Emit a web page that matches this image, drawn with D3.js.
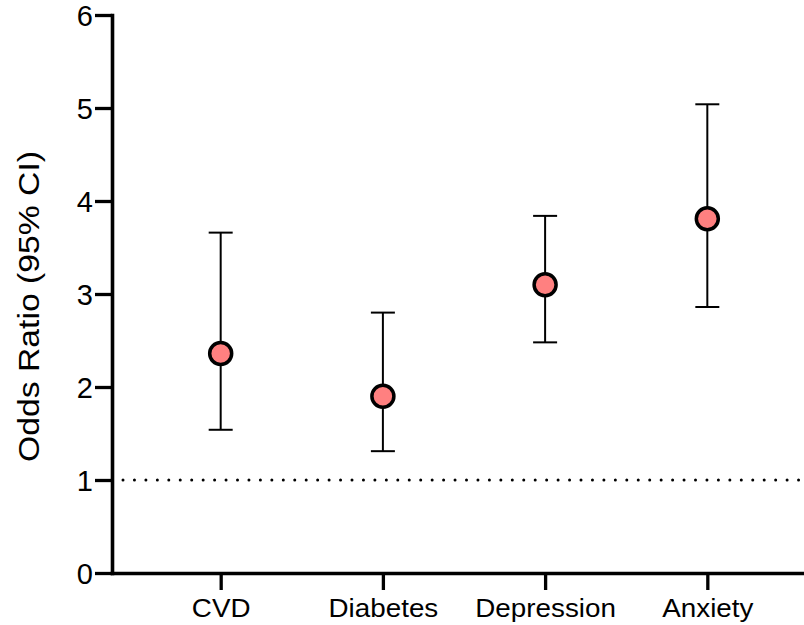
<!DOCTYPE html>
<html>
<head>
<meta charset="utf-8">
<script src="https://cdn.jsdelivr.net/npm/d3@7"></script>
<style>
  html, body { margin: 0; padding: 0; background: #fff; }
  svg { display: block; }
  text { font-family: "Liberation Sans", Arial, Helvetica, sans-serif; fill: #000; }
</style>
</head>
<body>
<svg id="chart" width="804" height="625"></svg>
<script>
// ---- data ----
const categories = ["CVD", "Diabetes", "Depression", "Anxiety"];
const oddsRatio  = [2.36, 1.90, 3.10, 3.81];
const ciLower    = [1.54, 1.31, 2.48, 2.86];
const ciUpper    = [3.66, 2.80, 3.84, 5.04];
const yTicks     = [0, 1, 2, 3, 4, 5, 6];
const refValue   = [1];
const yTitle     = "Odds Ratio (95% CI)";

// ---- layout ----
const W = 804, H = 625;
const mLeft = 112, mTop = 15, mBottom = 573;

const svg = d3.select("#chart");

const y = d3.scaleLinear().domain([0, 6]).range([mBottom, mTop]);
const x = d3.scalePoint().domain(categories).range([mLeft, 816]).padding(0.67);

const rows = categories.map((c, i) => ({ c, v: oddsRatio[i], lo: ciLower[i], hi: ciUpper[i] }));

// reference dotted line
svg.selectAll("line.ref").data(refValue).join("line")
  .attr("class", "ref")
  .attr("x1", mLeft + 11).attr("x2", W)
  .attr("y1", d => y(d)).attr("y2", d => y(d))
  .attr("stroke", "#000").attr("stroke-width", 3)
  .attr("stroke-linecap", "round")
  .attr("stroke-dasharray", "0 11.45");

// y axis
const gy = svg.append("g").attr("transform", `translate(${mLeft},0)`)
  .call(d3.axisLeft(y).tickValues(yTicks).tickFormat(d3.format("d")).tickSize(17).tickSizeOuter(0).tickPadding(2));
gy.select(".domain").attr("stroke", "#000").attr("stroke-width", 3.6).attr("stroke-linecap", "square");
gy.selectAll(".tick line").attr("stroke", "#000").attr("stroke-width", 3.3);
gy.selectAll(".tick text").attr("font-size", 29).attr("dy", "0.36em");

// x axis
const gx = svg.append("g").attr("transform", `translate(0,${mBottom})`)
  .call(d3.axisBottom(x).tickSize(17).tickSizeOuter(0).tickPadding(9));
gx.select(".domain").attr("stroke", "#000").attr("stroke-width", 3.6).attr("stroke-linecap", "square");
gx.selectAll(".tick line").attr("stroke", "#000").attr("stroke-width", 3.3);
gx.selectAll(".tick text").attr("font-size", 26).attr("dy", "0.71em")
  .attr("transform", "scale(1.07,1)");

// y title
svg.append("text")
  .attr("transform", `translate(39,${(150 + 463) / 2}) rotate(-90)`)
  .attr("text-anchor", "middle")
  .attr("font-size", 29)
  .attr("textLength", 311)
  .attr("lengthAdjust", "spacingAndGlyphs")
  .text(yTitle);

// error bars
const eb = svg.append("g").selectAll("g").data(rows).join("g");
eb.append("line")
  .attr("x1", d => x(d.c)).attr("x2", d => x(d.c))
  .attr("y1", d => y(d.lo)).attr("y2", d => y(d.hi))
  .attr("stroke", "#000").attr("stroke-width", 2);
eb.append("line")
  .attr("x1", d => x(d.c) - 12).attr("x2", d => x(d.c) + 12)
  .attr("y1", d => y(d.hi)).attr("y2", d => y(d.hi))
  .attr("stroke", "#000").attr("stroke-width", 2);
eb.append("line")
  .attr("x1", d => x(d.c) - 12).attr("x2", d => x(d.c) + 12)
  .attr("y1", d => y(d.lo)).attr("y2", d => y(d.lo))
  .attr("stroke", "#000").attr("stroke-width", 2);

// points
svg.append("g").selectAll("circle").data(rows).join("circle")
  .attr("cx", d => x(d.c)).attr("cy", d => y(d.v))
  .attr("r", 11)
  .attr("fill", "#FF8080")
  .attr("stroke", "#000").attr("stroke-width", 3.5);
</script>
</body>
</html>
